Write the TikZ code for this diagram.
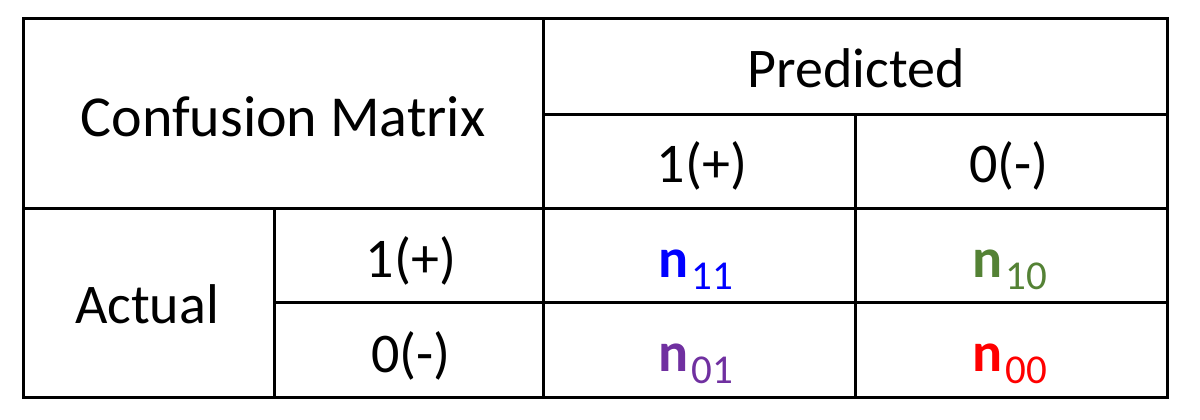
\documentclass[tikz,border=0pt]{standalone}
\usepackage{fontspec}
\setmainfont{Carlito}
\usepackage{tikz}
\usetikzlibrary{positioning}
\definecolor{myblue}{RGB}{0,0,255}
\definecolor{mygreen}{RGB}{84,130,53}
\definecolor{mypurple}{RGB}{112,48,160}
\definecolor{myred}{RGB}{255,0,0}
\tikzstyle{label}=[anchor=base,inner sep=0pt,font=\fontsize{56}{64}\selectfont]
\tikzstyle{count}=[label]
\newcommand{\nsub}[1]{{\bfseries n}\kern3pt\raisebox{-12pt}{\fontsize{41}{46}\selectfont #1}}

\begin{document}
\begin{tikzpicture}[x=1pt,y=-1pt,line width=3pt]
\useasboundingbox (0,0) rectangle (1200,420);
% grid
\draw (23,19) rectangle (1167,397);
\draw (23,208) -- (1167,208);
\draw (543,19) -- (543,397);
\draw (543,114) -- (1167,114);
\draw (855,114) -- (855,397);
\draw (274,208) -- (274,397);
\draw (274,302) -- (1167,302);
% headers
\draw (283,136) node [label, font=\fontsize{58}{64}\selectfont] (title) {Confusion Matrix};
\draw (856,88) node [label] (pred) {Predicted};
\draw (702,182) node [label] (pone) {1(+)};
\draw (1009,182) node [label] (pzero) {0(-)};
\draw (147,323) node [label] (actual) {Actual};
\draw (411,277) node [label] (aone) {1(+)};
\draw (411,372) node [label] (azero) {0(-)};
% counts
\draw (696,277) node [count, myblue] (n11) {\nsub{11}};
\draw (1010,277) node [count, mygreen] (n10) {\nsub{10}};
\draw (696,371) node [count, mypurple] (n01) {\nsub{01}};
\draw (1010,371) node [count, myred] (n00) {\nsub{00}};
\end{tikzpicture}
\end{document}
